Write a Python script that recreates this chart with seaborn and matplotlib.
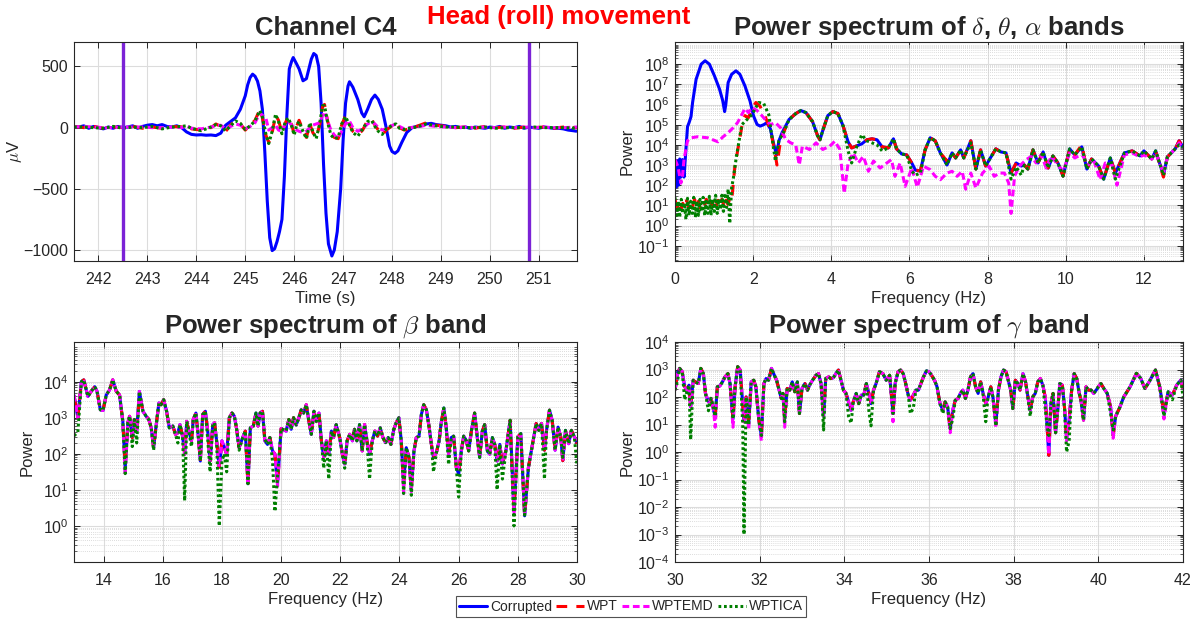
import numpy as np
import matplotlib
matplotlib.use("Agg")
import matplotlib.pyplot as plt
from matplotlib.lines import Line2D
from matplotlib.ticker import LogLocator, NullFormatter, FixedLocator
import seaborn as sns

# ---------------------------------------------------------------- time domain
tl_corr_t = [241.50, 241.60, 241.70, 241.80, 241.90, 242.00, 242.10, 242.20, 242.30, 242.40,
             242.50, 242.60, 242.70, 242.80, 242.90, 243.00, 243.10, 243.20, 243.30, 243.40,
             243.50, 243.60, 243.70, 243.80, 243.90, 244.00, 244.10, 244.20, 244.30, 244.40,
             244.50, 244.55, 244.60, 244.70, 244.80, 244.90, 245.00, 245.05, 245.10, 245.15,
             245.20, 245.25, 245.30, 245.35, 245.40, 245.45, 245.50, 245.55, 245.60, 245.65,
             245.70, 245.75, 245.80, 245.85, 245.90, 245.95, 245.98, 246.05, 246.10, 246.18,
             246.25, 246.30, 246.35, 246.40, 246.45, 246.50, 246.55, 246.60, 246.65, 246.70,
             246.77, 246.82, 246.88, 246.95, 247.00, 247.05, 247.10, 247.13, 247.20, 247.30,
             247.38, 247.43, 247.50, 247.58, 247.65, 247.72, 247.80, 247.88, 247.95, 248.00,
             248.06, 248.12, 248.20, 248.30, 248.41, 248.50, 248.60, 248.70, 248.80, 248.90,
             249.00, 249.10, 249.20, 249.30, 249.40, 249.50, 249.60, 249.70, 249.80, 249.90,
             250.00, 250.10, 250.20, 250.30, 250.40, 250.50, 250.60, 250.70, 250.80, 250.90,
             251.00, 251.10, 251.20, 251.30, 251.40, 251.50, 251.60, 251.70, 251.78]
tl_corrupted = [10, 5, 15, -5, 10, 0, -10, 5, -5, 10,
                0, 5, 15, -5, 10, 20, 25, 15, 25, 10,
                5, 15, 0, -35, -55, -60, -58, -62, -60, -65,
                -45, -10, 20, 50, 80, 150, 260, 350, 410, 437,
                420, 380, 300, 150, -200, -600, -900, -1005, -990, -930,
                -850, -750, -400, 100, 480, 545, 573, 520, 480, 383,
                400, 480, 560, 606, 590, 500, 200, -300, -700, -950,
                -1049, -1000, -850, -500, -100, 200, 340, 375, 330, 230,
                120, 89, 150, 230, 266, 230, 150, 0, -150, -195,
                -210, -190, -120, -40, 0, 10, 15, 30, 35, 25,
                20, 15, 5, 10, 0, 5, -5, 5, 0, -5,
                5, 0, 10, -5, 5, 0, 10, -5, 5, 0,
                -5, 5, 0, -5, -5, -10, -20, -25, -30]

tl_clean_t = [241.5, 241.7, 241.9, 242.1, 242.3, 242.5, 242.7, 242.9, 243.1, 243.3,
              243.5, 243.7, 243.8, 243.9, 244.1, 244.3, 244.4, 244.5, 244.6, 244.7,
              244.8, 244.9, 245.0, 245.1, 245.2, 245.3, 245.35, 245.42, 245.48, 245.55,
              245.62, 245.68, 245.75, 245.82, 245.88, 245.95, 246.0, 246.05, 246.1, 246.18,
              246.25, 246.32, 246.38, 246.45, 246.52, 246.58, 246.62, 246.68, 246.75, 246.82,
              246.9, 246.97, 247.05, 247.12, 247.2, 247.3, 247.4, 247.5, 247.58, 247.65,
              247.72, 247.8, 247.88, 247.95, 248.02, 248.08, 248.15, 248.25, 248.35, 248.5,
              248.7, 248.9, 249.1, 249.3, 249.5, 249.7, 249.9, 250.1, 250.3, 250.5,
              250.7, 250.9, 251.1, 251.3, 251.5, 251.78]
tl_wpt = [10, 0, 10, -5, 5, 0, 10, -5, 5, -5,
          10, 5, 20, -10, -20, 0, 30, 10, -30, 20,
          60, 30, -20, 20, 60, 150, 80, -60, -120, -40,
          100, 60, -40, 40, 90, 20, -50, 10, 60, -20,
          -80, 30, -40, -80, 20, 170, 190, 60, -50, -80,
          -90, 20, 100, 40, -30, -60, -20, 60, 70, 20,
          -20, -60, -20, 0, 20, 40, 0, -20, -10, 10,
          40, 20, 10, 0, 5, -5, 10, 0, 5, -5,
          5, 0, 5, -5, 5, 0]
tl_wptemd = [5, 10, 5, 0, 0, 5, 5, 5, 0, 0,
             5, 0, 15, -5, -10, 5, 15, 20, -10, 10,
             30, 20, -10, 10, 40, 120, 100, 80, -20, 0,
             20, -20, -30, 30, 50, 20, 0, -20, -30, -40,
             -30, 0, 20, 30, 40, 100, 130, 60, -20, -60,
             -90, -30, 30, 60, 0, -30, -10, 30, 50, 30,
             0, -20, -10, 10, 20, 30, 10, -10, 0, 5,
             20, 10, 5, 0, 5, 0, 5, 0, 5, 0,
             5, 0, 5, 0, 0, 5]
tl_wptica = [5, 5, 0, -5, 10, -5, 5, 0, 10, -10,
             5, 10, 15, -5, -25, 5, 25, 15, -25, 15,
             55, 35, -15, 15, 55, 140, 90, -50, -130, -30,
             110, 50, -50, 50, 80, 10, -60, 20, 50, -30,
             -90, 40, -30, -90, 30, 180, 180, 50, -60, -90,
             -80, 30, 90, 30, -40, -70, -10, 50, 60, 10,
             -30, -55, -10, 5, 25, 30, -5, -15, -5, 5,
             30, 15, 5, 5, 0, 0, 5, -5, 0, 0,
             0, 5, 0, 0, 0, -5]
tl_markers = [242.5, 250.8]

# ------------------------------------------- delta/theta/alpha spectra (log10 power)
dta_corr_f = [0.00, 0.03, 0.06, 0.09, 0.12, 0.15, 0.19, 0.23, 0.28, 0.32,
              0.36, 0.41, 0.45, 0.54, 0.67, 0.77, 0.88, 1.01, 1.14, 1.22,
              1.27, 1.30, 1.36, 1.45, 1.56, 1.66, 1.79, 1.92, 2.01, 2.10,
              2.18, 2.27, 2.35, 2.44, 2.53, 2.60, 2.66, 2.74, 2.92, 3.09,
              3.22, 3.35, 3.52, 3.65, 3.71, 3.78, 3.91, 4.04, 4.17, 4.30,
              4.43, 4.52, 4.65, 4.78, 4.91, 5.04, 5.17, 5.30, 5.46, 5.59,
              5.67, 5.80, 5.93, 6.06, 6.15, 6.28, 6.40, 6.53, 6.66, 6.79,
              6.96, 7.09, 7.18, 7.31, 7.39, 7.57, 7.70, 7.82, 7.95, 8.04,
              8.21, 8.34, 8.47, 8.60, 8.73, 8.86, 8.94, 9.03, 9.16, 9.29,
              9.42, 9.55, 9.67, 9.80, 9.93, 10.10, 10.23, 10.41, 10.54, 10.66,
              10.84, 10.97, 11.14, 11.27, 11.50, 11.70, 11.90, 12.00, 12.20, 12.30,
              12.50, 12.60, 12.80, 12.90, 13.00]
dta_corrupted = [3.3, 1.9, 3.2, 2.0, 3.3, 2.4, 3.27, 2.4, 3.77, 4.9,
                 5.1, 5.4, 6.1, 7.25, 8.0, 8.17, 8.0, 7.42, 6.76, 6.2,
                 5.65, 6.0, 7.09, 7.5, 7.67, 7.5, 6.92, 6.17, 5.43, 5.01,
                 4.93, 5.0, 5.1, 4.8, 4.0, 3.5, 4.2, 4.6, 5.26, 5.55,
                 5.7, 5.6, 5.15, 4.45, 4.25, 4.7, 5.45, 5.65, 5.55, 4.95,
                 4.15, 3.85, 3.95, 4.05, 4.25, 4.3, 4.25, 3.9, 3.85, 4.3,
                 3.8, 3.55, 3.5, 3.1, 2.75, 2.7, 3.75, 4.35, 4.2, 3.6,
                 3.0, 3.6, 3.35, 3.75, 3.35, 4.2, 2.8, 3.75, 2.95, 3.25,
                 3.8, 3.65, 3.6, 2.6, 3.1, 2.95, 3.0, 2.8, 3.75, 3.1,
                 3.65, 2.85, 3.45, 3.1, 2.45, 3.8, 3.5, 3.9, 2.8, 3.3,
                 2.95, 2.3, 3.35, 2.6, 3.6, 3.7, 3.45, 3.7, 3.3, 3.7,
                 2.5, 3.4, 3.8, 4.2, 3.9]

# low-frequency part of the filtered outputs, above this they track the raw spectrum
dta_join = 2.9
dta_wpt_f = [0.00, 0.05, 0.10, 0.15, 0.20, 0.25, 0.30, 0.35, 0.40, 0.45,
             0.50, 0.55, 0.60, 0.65, 0.70, 0.75, 0.80, 0.85, 0.90, 0.95,
             1.00, 1.05, 1.10, 1.15, 1.20, 1.25, 1.30, 1.35, 1.40, 1.45,
             1.53, 1.62, 1.71, 1.79, 1.88, 1.97, 2.07, 2.18, 2.31, 2.44,
             2.53, 2.61, 2.70, 2.80]
dta_wpt = [1.3, 0.9, 1.2, 0.8, 1.1, 0.9, 1.25, 0.85, 1.15, 0.95,
           1.3, 0.9, 1.2, 0.85, 1.1, 0.95, 1.3, 0.9, 1.2, 1.0,
           1.35, 0.95, 1.25, 0.9, 1.3, 1.0, 1.4, 1.05, 1.3, 1.2,
           2.9, 3.9, 4.9, 5.45, 5.35, 5.8, 6.1, 5.9, 5.4, 4.75,
           3.9, 3.0, 4.2, 4.7]
dta_wpt_tail = {6.96: 3.2, 10.41: 4.0, 12.50: 2.4}

dta_wptica_f = [0.00, 0.04, 0.08, 0.12, 0.16, 0.20, 0.24, 0.28, 0.32, 0.36,
                0.40, 0.44, 0.48, 0.52, 0.56, 0.60, 0.64, 0.68, 0.72, 0.76,
                0.80, 0.84, 0.88, 0.92, 0.96, 1.00, 1.04, 1.08, 1.12, 1.16,
                1.20, 1.24, 1.28, 1.32, 1.36, 1.40, 1.45, 1.49, 1.57, 1.71,
                1.84, 1.97, 2.14, 2.27, 2.40, 2.48, 2.57, 2.66, 2.80]
dta_wptica = [1.4, 0.5, 1.2, 0.4, 1.3, 0.6, 1.1, 0.3, 1.35, 0.5,
              1.2, 0.6, 1.4, 0.4, 1.2, 0.5, 1.3, 0.7, 1.4, 0.5,
              1.2, 0.6, 1.45, 0.5, 1.3, 0.7, 1.5, 0.6, 1.3, 0.8,
              1.5, 0.7, 1.6, 0.9, 1.8, 0.1, 1.9, 2.3, 3.4, 5.0,
              5.25, 5.5, 6.1, 6.05, 5.5, 4.4, 3.2, 4.2, 4.7]
dta_wptica_tail = {4.43: 3.7, 4.52: 3.1, 4.65: 3.9, 4.78: 4.5, 4.91: 4.2, 5.04: 4.1,
                   5.17: 4.0, 5.30: 3.7, 6.06: 2.7, 6.15: 2.5, 6.28: 2.6, 7.57: 4.1,
                   8.60: 2.3, 8.73: 2.9, 8.86: 2.5, 11.27: 2.3, 12.90: 4.0}

dta_wptemd_f = [0.00, 0.08, 0.15, 0.19, 0.23, 0.32, 0.41, 0.58, 0.84, 1.10,
                1.23, 1.36, 1.49, 1.60, 1.71, 1.79, 1.88, 1.97, 2.10, 2.20,
                2.31, 2.44, 2.57, 2.70, 2.83, 2.96, 3.09, 3.18, 3.26, 3.44,
                3.61, 3.78, 3.96, 4.09, 4.22, 4.33, 4.43, 4.56, 4.69, 4.82,
                4.95, 5.08, 5.25, 5.42, 5.54, 5.63, 5.76, 5.89, 6.06, 6.20,
                6.36, 6.53, 6.66, 6.79, 6.96, 7.09, 7.22, 7.35, 7.44, 7.57,
                7.70, 7.87, 8.04, 8.17, 8.30, 8.43, 8.54, 8.60, 8.69, 8.81,
                8.99, 9.12, 9.24, 9.37, 9.50, 9.63, 9.76, 9.93, 10.10, 10.23,
                10.41, 10.58, 10.71, 10.88, 11.01, 11.18, 11.31, 11.50, 11.70, 11.90,
                12.00, 12.20, 12.30, 12.50, 12.60, 12.80, 12.90, 13.00]
dta_wptemd = [3.27, 2.9, 2.1, 2.4, 3.27, 4.2, 4.35, 4.4, 4.35, 4.15,
              4.4, 4.6, 4.85, 5.1, 5.5, 5.8, 5.6, 5.85, 5.7, 5.5,
              5.25, 5.0, 5.1, 4.85, 4.27, 4.1, 4.0, 3.0, 3.93, 3.77,
              4.1, 3.77, 3.93, 4.18, 3.77, 1.6, 3.1, 3.6, 3.1, 3.43,
              2.69, 3.2, 2.85, 3.1, 3.27, 2.44, 3.1, 1.94, 2.85, 1.9,
              2.94, 2.77, 2.44, 2.27, 2.6, 2.69, 2.44, 2.69, 1.8, 2.6,
              1.86, 2.6, 2.94, 2.44, 2.6, 2.6, 2.1, 0.6, 2.44, 2.94,
              3.27, 3.43, 3.1, 3.52, 2.85, 3.43, 3.1, 2.69, 3.6, 3.35,
              3.52, 3.02, 3.27, 2.27, 3.1, 3.02, 2.0, 3.5, 3.6, 3.4,
              3.5, 3.3, 3.6, 2.6, 3.4, 3.8, 4.1, 3.8]

# ------------------------------------------------------ beta band (log10 power)
beta_f = [13.00, 13.13, 13.25, 13.33, 13.47, 13.58, 13.70, 13.78, 13.89, 13.98,
          14.09, 14.20, 14.31, 14.43, 14.54, 14.65, 14.73, 14.82, 14.88, 14.97,
          15.04, 15.12, 15.21, 15.33, 15.44, 15.53, 15.61, 15.69, 15.78, 15.87,
          15.94, 16.03, 16.13, 16.22, 16.34, 16.43, 16.51, 16.58, 16.67, 16.74,
          16.81, 16.88, 16.97, 17.03, 17.12, 17.20, 17.27, 17.35, 17.44, 17.52,
          17.60, 17.69, 17.75, 17.82, 17.91, 18.00, 18.08, 18.16, 18.25, 18.34,
          18.42, 18.49, 18.58, 18.70, 18.79, 18.88, 18.96, 19.06, 19.15, 19.22,
          19.29, 19.37, 19.45, 19.54, 19.62, 19.71, 19.79, 19.88, 20.00, 20.17,
          20.26, 20.34, 20.42, 20.51, 20.60, 20.68, 20.76, 20.85, 20.94, 21.02,
          21.11, 21.19, 21.28, 21.36, 21.44, 21.53, 21.61, 21.70, 21.77, 21.86,
          21.98, 22.07, 22.15, 22.23, 22.32, 22.41, 22.48, 22.56, 22.65, 22.74,
          22.82, 22.90, 22.99, 23.08, 23.17, 23.26, 23.35, 23.44, 23.53, 23.62,
          23.71, 23.81, 23.89, 23.98, 24.06, 24.14, 24.23, 24.32, 24.40, 24.49,
          24.57, 24.66, 24.74, 24.82, 24.91, 24.99, 25.08, 25.15, 25.25, 25.34,
          25.41, 25.50, 25.58, 25.66, 25.75, 25.83, 25.92, 26.00, 26.09, 26.17,
          26.26, 26.34, 26.43, 26.54, 26.63, 26.71, 26.80, 26.88, 26.97, 27.05,
          27.14, 27.22, 27.30, 27.39, 27.48, 27.60, 27.74, 27.87, 28.00, 28.10,
          28.23, 28.36, 28.52, 28.62, 28.71, 28.80, 28.90, 28.97, 29.07, 29.16,
          29.26, 29.36, 29.45, 29.52, 29.61, 29.72, 29.81, 29.91, 30.00]
beta_corrupted = [3.63, 3.0, 4.0, 4.05, 3.59, 3.73, 3.86, 3.73, 3.22, 3.2,
                  3.63, 3.77, 4.05, 3.73, 3.63, 2.9, 1.6, 2.86, 3.04, 2.45,
                  2.95, 2.63, 3.73, 3.18, 3.04, 2.95, 2.72, 2.17, 2.81, 3.41,
                  3.36, 3.5, 3.18, 2.72, 2.77, 2.54, 2.58, 2.81, 2.49, 1.99,
                  2.9, 2.63, 2.36, 2.95, 3.13, 2.49, 1.8, 3.09, 3.18, 2.63,
                  1.8, 2.81, 2.86, 2.36, 1.63, 2.36, 2.17, 1.99, 3.0, 3.13,
                  3.04, 2.72, 2.17, 2.45, 2.63, 1.17, 2.72, 2.77, 3.13, 2.77,
                  3.13, 3.18, 2.36, 2.26, 2.45, 2.08, 1.99, 1.17, 2.7, 2.63,
                  2.95, 2.68, 3.0, 2.8, 3.0, 3.22, 3.13, 3.36, 2.9, 2.54,
                  3.18, 2.9, 3.13, 2.36, 1.9, 2.36, 1.99, 2.63, 2.45, 2.81,
                  2.45, 1.99, 1.72, 2.36, 2.54, 2.36, 2.68, 2.36, 2.81, 2.08,
                  2.81, 2.36, 1.99, 2.36, 2.63, 2.49, 2.72, 2.45, 2.31, 2.45,
                  2.26, 2.68, 2.86, 3.0, 2.36, 1.17, 2.17, 1.9, 1.03, 2.08,
                  2.45, 2.49, 3.09, 3.36, 3.22, 2.81, 2.26, 1.9, 2.04, 2.36,
                  2.86, 3.27, 2.72, 1.99, 2.45, 2.49, 1.63, 1.44, 2.08, 2.49,
                  2.36, 2.08, 2.63, 3.13, 2.45, 1.9, 2.63, 2.81, 2.08, 1.99,
                  2.45, 2.26, 1.8, 2.26, 1.72, 2.1, 2.93, 0.42, 2.47, 2.56,
                  0.28, 1.63, 2.37, 2.84, 2.65, 2.84, 2.1, 2.65, 3.21, 2.93,
                  2.1, 2.74, 2.47, 1.81, 2.65, 2.28, 2.65, 2.47, 2.28]
beta_wpt_dips = {13.00: 3.6, 14.73: 1.7, 15.21: 3.65, 18.88: 1.1}
beta_wptemd_dips = {14.73: 1.4, 17.27: 1.9, 19.88: 1.1, 24.14: 0.9, 24.40: 0.95,
                    26.00: 1.6, 27.87: 0.3, 28.23: 0.3}
beta_wptica_dips = {13.00: 2.5, 13.13: 2.6, 14.73: 1.45, 14.97: 2.2, 15.12: 2.3,
                    15.69: 2.1, 16.51: 2.3, 16.74: 0.7, 16.97: 2.2, 17.52: 2.4,
                    17.60: 1.5, 17.91: 0.0, 18.00: 1.8, 18.08: 2.0, 18.16: 1.5,
                    18.58: 2.1, 19.45: 2.4, 19.71: 1.8, 19.79: 0.4, 19.88: 1.4,
                    21.44: 1.6, 21.61: 1.3, 22.15: 1.6, 22.99: 1.3, 24.14: 0.9,
                    24.40: 0.85, 25.15: 1.5, 25.66: 1.7, 26.00: 0.8, 27.30: 1.0,
                    27.48: 1.3, 27.87: 0.0, 28.23: 0.3, 28.90: 1.3, 29.52: 1.9,
                    30.00: 1.7}

# ----------------------------------------------------- gamma band (log10 power)
gamma_f = [30.00, 30.06, 30.11, 30.17, 30.23, 30.29, 30.33, 30.37, 30.43, 30.48,
           30.55, 30.61, 30.67, 30.72, 30.79, 30.85, 30.91, 30.95, 31.00, 31.06,
           31.12, 31.18, 31.25, 31.30, 31.37, 31.42, 31.48, 31.54, 31.60, 31.63,
           31.68, 31.74, 31.80, 31.86, 31.91, 31.98, 32.04, 32.10, 32.15, 32.21,
           32.28, 32.33, 32.40, 32.45, 32.51, 32.55, 32.59, 32.65, 32.71, 32.77,
           32.83, 32.89, 32.94, 33.00, 33.07, 33.13, 33.18, 33.25, 33.33, 33.39,
           33.45, 33.51, 33.56, 33.63, 33.68, 33.74, 33.80, 33.86, 33.92, 33.98,
           34.04, 34.10, 34.16, 34.21, 34.28, 34.34, 34.40, 34.46, 34.52, 34.58,
           34.63, 34.69, 34.75, 34.83, 34.91, 34.99, 35.07, 35.15, 35.20, 35.27,
           35.33, 35.39, 35.44, 35.51, 35.56, 35.63, 35.69, 35.75, 35.81, 35.87,
           35.94, 36.00, 36.06, 36.13, 36.19, 36.26, 36.33, 36.38, 36.44, 36.50,
           36.56, 36.62, 36.69, 36.74, 36.80, 36.86, 36.92, 36.98, 37.04, 37.10,
           37.16, 37.22, 37.27, 37.34, 37.39, 37.46, 37.51, 37.58, 37.64, 37.70,
           37.76, 37.82, 37.87, 37.93, 37.98, 38.04, 38.10, 38.15, 38.22, 38.28,
           38.33, 38.39, 38.45, 38.51, 38.57, 38.63, 38.69, 38.75, 38.79, 38.83,
           38.88, 38.93, 38.99, 39.04, 39.09, 39.15, 39.20, 39.25, 39.31, 39.37,
           39.43, 39.49, 39.55, 39.59, 39.65, 39.71, 39.77, 39.83, 39.89, 39.95,
           40.00, 40.06, 40.13, 40.21, 40.29, 40.35, 40.41, 40.50, 40.60, 40.75,
           40.90, 41.00, 41.10, 41.20, 41.35, 41.45, 41.55, 41.65, 41.75, 41.85,
           41.95, 42.00]
gamma_corrupted = [2.25, 2.85, 3.04, 2.92, 2.37, 2.25, 2.43, 1.64, 2.61, 2.55,
                   2.49, 3.04, 2.85, 2.13, 1.82, 1.95, 1.52, 1.3, 2.37, 2.4,
                   2.55, 2.73, 2.85, 2.49, 1.2, 2.37, 3.1, 2.98, 1.76, 1.1,
                   2.0, 1.0, 2.55, 2.61, 2.37, 1.16, 0.6, 2.49, 2.67, 2.61,
                   3.04, 2.85, 2.61, 2.31, 1.95, 2.13, 1.2, 2.31, 2.25, 2.55,
                   2.19, 2.55, 1.4, 2.31, 2.49, 2.25, 2.43, 2.61, 2.79, 2.85,
                   2.49, 1.3, 2.67, 2.73, 2.67, 2.7, 2.85, 2.98, 2.61, 2.25,
                   2.13, 1.82, 1.52, 1.82, 2.13, 1.76, 2.07, 2.07, 2.49, 2.13,
                   1.76, 2.25, 2.49, 2.92, 2.85, 2.61, 2.79, 1.4, 2.49, 2.92,
                   2.98, 2.85, 2.55, 2.07, 1.88, 2.07, 2.25, 2.25, 2.49, 2.73,
                   2.95, 2.92, 2.79, 2.61, 2.37, 1.76, 1.52, 1.82, 1.64, 0.85,
                   1.52, 1.88, 1.95, 2.13, 2.25, 1.95, 2.25, 2.73, 2.85, 2.37,
                   2.13, 2.55, 2.19, 1.76, 1.95, 2.37, 2.0, 1.0, 2.25, 2.73,
                   2.98, 2.92, 2.61, 2.25, 1.58, 2.61, 2.49, 2.25, 2.85, 2.55,
                   2.07, 1.52, 2.0, 2.13, 2.55, 2.67, 2.43, 1.95, 0.92, -0.12,
                   1.76, 2.13, 0.7, 1.52, 2.49, 2.43, 1.64, 0.5, 1.16, 2.25,
                   2.85, 2.67, 2.13, 1.88, 1.16, 2.37, 2.25, 2.25, 2.13, 2.25,
                   2.37, 2.49, 2.31, 2.13, 1.64, 0.6, 1.3, 1.6, 2.0, 2.37,
                   2.86, 2.68, 2.31, 2.55, 2.98, 2.37, 1.4, 2.19, 2.07, 2.43,
                   2.62, 2.31]
gamma_wpt_dips = {33.51: 1.4, 34.16: 1.6}
gamma_wptemd_dips = {30.95: 0.9, 31.37: 0.9, 31.74: 0.8, 32.04: 0.4, 32.59: 0.9,
                     35.15: 1.1, 36.50: 0.7, 37.58: 0.9, 38.83: -0.1, 39.25: 0.4,
                     40.35: 0.5, 41.55: 1.2}
gamma_wptica_dips = {30.06: 2.6, 30.23: 1.9, 30.37: 0.45, 30.79: 1.5, 30.91: 1.6,
                     31.60: 1.0, 31.63: -3.0, 32.59: 1.1, 33.51: 0.8, 34.10: 1.3,
                     34.16: 1.05, 34.58: 1.5, 34.63: 0.95, 35.56: 1.4, 35.63: 1.6,
                     36.33: 1.4, 36.56: 1.2, 37.34: 1.1, 37.58: 0.95, 38.39: 1.3,
                     38.75: 1.5, 38.83: 0.6, 39.25: 0.0, 39.31: 0.4, 40.29: 1.4,
                     40.35: 0.8, 41.55: 1.3, 41.75: 1.9, 42.00: 2.0}

series_names = ["Corrupted", "WPT", "WPTEMD", "WPTICA"]

for a, b in [(tl_corr_t, tl_corrupted), (tl_clean_t, tl_wpt), (tl_clean_t, tl_wptemd),
             (tl_clean_t, tl_wptica), (dta_corr_f, dta_corrupted), (dta_wpt_f, dta_wpt),
             (dta_wptica_f, dta_wptica), (dta_wptemd_f, dta_wptemd),
             (beta_f, beta_corrupted), (gamma_f, gamma_corrupted)]:
    assert len(a) == len(b), (len(a), len(b))


def with_dips(freq, base, dips):
    """Copy of a spectrum where the listed bins take the given log10 values."""
    f = list(freq)
    v = list(base)
    for fd, vd in dips.items():
        i = int(np.argmin(np.abs(np.asarray(f) - fd)))
        if abs(f[i] - fd) < 0.035:
            v[i] = vd
        else:
            j = int(np.searchsorted(f, fd))
            f.insert(j, fd)
            v.insert(j, vd)
    return f, v


def low_then_raw(f_low, v_low, overrides):
    """Filtered low band, then the raw spectrum from dta_join upward."""
    ft = [f for f in dta_corr_f if f >= dta_join]
    vt = [v for f, v in zip(dta_corr_f, dta_corrupted) if f >= dta_join]
    ft, vt = with_dips(ft, vt, overrides)
    return list(f_low) + ft, list(v_low) + vt


# ---------------------------------------------------------------- styling
sns.set_theme(style="white")
plt.rcParams["font.family"] = ["Liberation Sans", "DejaVu Sans"]
plt.rcParams["mathtext.fontset"] = "cm"
plt.rcParams["axes.edgecolor"] = "#262626"
plt.rcParams["axes.linewidth"] = 0.8

styles = {
    "Corrupted": dict(color="#0000ff", linestyle="-", lw=2.2),
    "WPT": dict(color="#ff0000", linestyle=(0, (3.5, 3.0)), lw=2.2),
    "WPTEMD": dict(color="#ff00ff", linestyle=(0, (2.2, 1.2)), lw=2.2),
    "WPTICA": dict(color="#007f00", linestyle=(0, (0.9, 0.9)), lw=2.2),
}

TICK_FS = 11.5
LABEL_FS = 12
TITLE_FS = 18.5
TEXT_C = "#262626"

fig = plt.figure(figsize=(11.93, 6.21), dpi=100)
W, H = 1193.0, 621.0


def add_axes(x0, x1, y0, y1):
    return fig.add_axes([x0 / W, 1 - y1 / H, (x1 - x0) / W, (y1 - y0) / H])


ax_t = add_axes(74, 577, 42, 261)
ax_d = add_axes(675, 1183, 42, 261)
ax_b = add_axes(74, 577, 342, 562)
ax_g = add_axes(675, 1183, 342, 562)


def draw(ax, x, y, name, log=False):
    yy = np.power(10.0, np.asarray(y, dtype=float)) if log else np.asarray(y, dtype=float)
    sns.lineplot(x=np.asarray(x, dtype=float), y=yy, ax=ax, sort=False, estimator=None,
                 legend=False, solid_capstyle="butt", dash_capstyle="butt", **styles[name])


def finish(ax, log=False):
    ax.set_facecolor("white")
    ax.tick_params(axis="both", which="major", direction="in", length=4, width=0.7,
                   top=True, right=True, bottom=True, left=True,
                   labelsize=TICK_FS, labelcolor=TEXT_C, color="#262626", pad=4)
    ax.tick_params(axis="x", which="major", pad=8)
    ax.grid(True, which="major", color="#dcdcdc", lw=0.8, ls="-")
    if log:
        ax.set_yscale("log")
        ax.yaxis.set_minor_locator(LogLocator(base=10, subs=np.arange(2, 10), numticks=40))
        ax.yaxis.set_minor_formatter(NullFormatter())
        ax.tick_params(axis="y", which="minor", direction="in", length=2, width=0.5,
                       left=True, right=True, color="#262626")
        ax.grid(True, which="minor", axis="y", color="#d0d0d0", lw=0.6, ls=(0, (1, 1.5)))
    ax.set_axisbelow(True)
    for s in ax.spines.values():
        s.set_visible(True)
        s.set_color("#262626")


# ---- time domain
draw(ax_t, tl_corr_t, tl_corrupted, "Corrupted")
draw(ax_t, tl_clean_t, tl_wpt, "WPT")
draw(ax_t, tl_clean_t, tl_wptemd, "WPTEMD")
draw(ax_t, tl_clean_t, tl_wptica, "WPTICA")
for m in tl_markers:
    ax_t.axvline(m, color="#7b22d6", lw=2.4)
ax_t.set_xlim(241.5, 251.78)
ax_t.set_ylim(-1090, 700)
ax_t.set_xticks(range(242, 252))
ax_t.set_yticks([-1000, -500, 0, 500])
finish(ax_t)
ax_t.set_xlabel("Time (s)", fontsize=LABEL_FS, color=TEXT_C, labelpad=3)
ax_t.set_ylabel(r"$\mu$V", fontsize=LABEL_FS, color=TEXT_C, labelpad=0)
ax_t.set_title("Channel C4", fontsize=TITLE_FS, fontweight="bold", pad=5)

# ---- delta / theta / alpha
draw(ax_d, dta_corr_f, dta_corrupted, "Corrupted", log=True)
fw, vw = low_then_raw(dta_wpt_f, dta_wpt, dta_wpt_tail)
draw(ax_d, fw, vw, "WPT", log=True)
draw(ax_d, dta_wptemd_f, dta_wptemd, "WPTEMD", log=True)
fi, vi = low_then_raw(dta_wptica_f, dta_wptica, dta_wptica_tail)
draw(ax_d, fi, vi, "WPTICA", log=True)
finish(ax_d, log=True)
ax_d.set_xlim(0, 13)
ax_d.set_ylim(10 ** -1.76, 10 ** 9.1)
ax_d.yaxis.set_major_locator(FixedLocator([10.0 ** k for k in range(-1, 9)]))
ax_d.set_xticks(range(0, 13, 2))
ax_d.set_xlabel("Frequency (Hz)", fontsize=LABEL_FS, color=TEXT_C, labelpad=3)
ax_d.set_ylabel("Power", fontsize=LABEL_FS, color=TEXT_C, labelpad=2)
ax_d.set_title(r"Power spectrum of $\delta$, $\theta$, $\alpha$ bands",
               fontsize=TITLE_FS, fontweight="bold", pad=5)

# ---- beta
draw(ax_b, beta_f, beta_corrupted, "Corrupted", log=True)
for name, dips in [("WPT", beta_wpt_dips), ("WPTEMD", beta_wptemd_dips),
                   ("WPTICA", beta_wptica_dips)]:
    f, v = with_dips(beta_f, beta_corrupted, dips)
    draw(ax_b, f, v, name, log=True)
finish(ax_b, log=True)
ax_b.set_xlim(13, 30)
ax_b.set_ylim(10 ** -1.0, 10 ** 5.1)
ax_b.yaxis.set_major_locator(FixedLocator([10.0 ** k for k in range(0, 5)]))
ax_b.set_xticks(range(14, 31, 2))
ax_b.set_xlabel("Frequency (Hz)", fontsize=LABEL_FS, color=TEXT_C, labelpad=3)
ax_b.set_ylabel("Power", fontsize=LABEL_FS, color=TEXT_C, labelpad=6)
ax_b.set_title(r"Power spectrum of $\beta$ band", fontsize=TITLE_FS, fontweight="bold", pad=7)

# ---- gamma
draw(ax_g, gamma_f, gamma_corrupted, "Corrupted", log=True)
for name, dips in [("WPT", gamma_wpt_dips), ("WPTEMD", gamma_wptemd_dips),
                   ("WPTICA", gamma_wptica_dips)]:
    f, v = with_dips(gamma_f, gamma_corrupted, dips)
    draw(ax_g, f, v, name, log=True)
finish(ax_g, log=True)
ax_g.set_xlim(30, 42)
ax_g.set_ylim(1e-4, 1e4)
ax_g.yaxis.set_major_locator(FixedLocator([10.0 ** k for k in range(-4, 5)]))
ax_g.set_xticks(range(30, 43, 2))
ax_g.set_xlabel("Frequency (Hz)", fontsize=LABEL_FS, color=TEXT_C, labelpad=3)
ax_g.set_ylabel("Power", fontsize=LABEL_FS, color=TEXT_C, labelpad=2)
ax_g.set_title(r"Power spectrum of $\gamma$ band", fontsize=TITLE_FS, fontweight="bold", pad=7)

# ---- header and shared legend
fig.text(559 / W, 1 - 17 / H, "Head (roll) movement", color="#ff0000", fontsize=18.5,
         fontweight="bold", ha="center", va="center")

handles = [Line2D([], [], **styles[n]) for n in series_names]
leg = fig.legend(handles, series_names, loc="center", bbox_to_anchor=(631 / W, 1 - 606.5 / H),
                 ncol=4, fontsize=10, frameon=True, fancybox=False, handlelength=2.0,
                 handletextpad=0.2, columnspacing=0.3, borderpad=0.25, borderaxespad=0)
leg.get_frame().set_edgecolor("#262626")
leg.get_frame().set_linewidth(0.8)

fig.savefig("out.png", dpi=100, facecolor="white")
